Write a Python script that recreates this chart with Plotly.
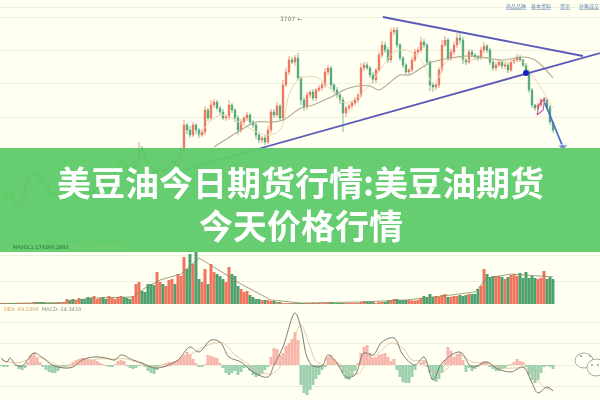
import plotly.graph_objects as go

# --- price candles (one per trading session) ---
closes = [
3499,3502,3506,3504,3498,3495,3497,3504,3516,3522,
3526,3528,3524,3519,3516,3512,3507,3504,3506,3502,
3508,3514,3518,3511,3506,3514,3519,3516,3510,3508,
3504,3509,3514,3522,3516,3511,3519,3524,3529,3536,
3539,3534,3529,3526,3532,3539,3552,3548,3540,3534,
3532,3528,3530,3532,3528,3532,3535,3540,3535,3542,
3550,3575,3570,3565,3575,3570,3565,3568,3590,3582,
3595,3598,3592,3588,3582,3583,3595,3590,3582,3570,
3578,3582,3585,3578,3575,3565,3560,3562,3558,3570,
3588,3585,3594,3582,3615,3628,3640,3638,3642,3622,
3600,3593,3605,3608,3602,3610,3612,3615,3628,3632,
3615,3610,3605,3600,3587,3592,3594,3597,3600,3605,
3632,3635,3632,3625,3620,3630,3645,3655,3650,3640,
3668,3670,3655,3642,3635,3628,3630,3640,3648,3650,
3658,3655,3638,3615,3613,3615,3630,3655,3660,3642,
3648,3655,3662,3660,3640,3638,3648,3645,3643,3642,
3650,3654,3650,3638,3632,3635,3638,3634,3635,3630,
3638,3640,3643,3640,3635,3628,3610,3595,3592,3595,
3600,3600,3593,3578,3570]
upper_wick = [
2,1,2,1,2,1,3,1,2,2,2,3,1,2,1,2,1,1,2,3,
2,2,3,1,2,2,3,2,1,2,2,1,3,2,1,2,3,2,2,3,
2,1,2,2,3,2,6,2,1,2,2,1,2,2,1,2,2,3,1,2,
3,5,2,4,3,2,2,3,4,2,5,3,2,2,3,2,5,2,2,3,
3,2,3,2,2,2,3,2,3,4,3,3,4,2,5,4,4,3,3,5,
2,3,3,2,3,2,3,3,4,3,2,2,3,2,3,2,2,2,3,2,
5,3,3,2,3,2,3,4,3,3,4,3,3,2,2,2,2,3,3,3,
5,3,2,2,2,2,3,5,4,2,3,3,5,5,3,2,3,3,2,2,
3,4,2,2,2,3,2,2,3,2,2,2,3,2,1,2,2,2,1,2,
2,3,2,2,1]
lower_wick = [
2,2,1,2,3,2,1,2,1,2,2,1,3,2,2,1,2,3,1,2,
2,1,2,3,1,2,1,2,3,2,2,3,1,2,2,1,2,2,1,2,
1,3,2,1,2,2,1,2,3,1,2,2,1,3,2,1,2,2,3,1,
2,3,4,3,2,4,3,2,3,3,3,3,2,3,2,3,3,3,4,5,
3,2,3,3,3,4,3,3,3,2,3,3,2,3,3,2,3,2,4,3,
5,4,3,3,3,3,2,3,3,3,4,3,3,4,19,4,3,3,3,3,
3,3,2,3,3,3,2,3,3,3,3,3,3,3,3,3,3,2,2,3,
3,3,3,6,5,3,3,3,2,3,3,3,3,4,4,3,2,2,3,3,
2,3,3,3,3,3,2,3,3,3,2,2,2,2,2,2,3,3,3,2,
2,3,3,3,3]

# --- moving averages on the price panel: session index, price ---
slow_idx = [71,80,85,90,94,100,104,110,116,123,126,133,136,143,150,155,160,167,174,178,184]
slow_val = [3553,3570,3578,3578,3580,3592,3595,3603,3612,3614,3610,3625,3625,3637,3642,3644,3643,3640,3643,3640,3622]
fast_idx = [66,73,81,88,93,96,99,105,111,115,122,127,131,135,140,144,146,148,152,155,162,168,174,177,180,184]
fast_val = [3565,3585,3575,3565,3570,3605,3620,3623,3607,3597,3612,3633,3648,3650,3640,3617,3623,3637,3643,3640,3642,3638,3638,3625,3612,3592]

# --- drawn trend lines and arrow on the price panel ---
upper_trend_idx = [127.3,194]
upper_trend_val = [3683,3644]
lower_trend_idx = [60.7,199.7]
lower_trend_val = [3530,3647]
arrow_idx = [181.3,187.3]
arrow_val = [3597,3553]
breakout_idx = [175]
breakout_val = [3627]
flag_idx = [178.7,179.3,181.3,180.7,178.7]
flag_val = [3585,3595,3602,3590,3585]

# --- volume bars ---
volume = [
.5,.5,.5,.5,.5,1,1,1,1,1,
1,1.5,1.5,1.5,1.5,1,1,1,1,1,
1,1.5,5,4,5,4,6,5,5,7,
6,8,5,6,7,5,8,6,5,7,
8,7,6,5,8,20,22,13,12,20,
20,19,32,22,20,18,24,25,20,30,
28,47,35,50,40,52,25,22,35,20,
40,32,30,28,25,22,37,30,28,18,
15,12,13,9,7,5,5,4,4,4,
3,3,2,2,1,1,1,.5,.5,1,
1,1,.5,.5,.5,.5,.5,1,1,1.5,
1.5,1,1,1,1,1,1,1,1,1,
2,3,2.5,2.5,2,1,1.5,2,2,3.5,
4,5,5,4,4,4,4,3.5,3.5,4,
6,8,7,10,7,8,7,9,10,7,
7,8,8,9,8,9,10,10,10,15,
18,35,30,27,28,28,28,27,25,27,
29,30,28,31,26,32,26,28,26,25,
26,33,25,27,25]
vol_ma_idx = [0,21,30,44,48,53,60,66,72,80,90,100,120,135,150,158,162,170,184]
vol_ma_val = [.5,1.5,6,7,16,24,30,46,35,20,4,1,2,4,9,12,26,30,27]

# --- MACD panel ---
macd_hist = [
-1,-2,-2,0,0,-1,-4,-5,-3,3,
10,12,7,3,-2,-5,-7,-8,-8,-6,
-3,-2,-1,1,3,5,6,7,7,6,
5,5,4,2,1,-1,-2,-2,1,4,
5,4,-1,-3,-4,-3,-1,1,-2,-6,
-8,-9,-5,-1,1,2,3,3,4,5,
8,10,13,11,6,2,-2,-2,1,10,
9,8,7,2,-3,-8,-10,-8,-6,-10,
-7,-3,-2,-6,-10,-12,-11,-9,-5,-2,
8,17,16,10,12,19,22,26,33,25,
-20,-28,-30,-25,-20,-14,-10,-5,-2,8,
10,6,2,-2,-8,-14,-15,-11,-6,2,
12,18,20,12,7,8,10,11,12,8,
4,6,-5,-12,-17,-18,-18,-12,-5,0,
3,5,-2,-8,-15,-17,-14,-8,5,18,
14,8,11,12,5,-7,-3,-6,-4,-2,
2,4,3,-2,-4,-6,-6,-4,-3,-1,
1,3,6,4,3,-2,-10,-15,-18,-15,
-8,-2,-1,-2,-4]
dif_idx = [0,2,3,5,7,11,14,17,21,24,27,31,35,38,40,44,47,51,54,59,63,66,70,73,76,80,84,89,91,94,98,100,102,104,107,109,112,115,118,121,124,127,131,134,138,141,144,147,153,157,162,165,170,174,177,179,182,184]
dif_val = [7,3,7,0,-1,12,7,0,-3,-2,5,8,7,5,10,5,2,-3,-2,5,18,13,25,23,8,3,-7,-12,0,18,52,37,8,-1,-1,10,2,-12,-10,12,10,23,27,10,0,8,-15,2,13,-2,3,-3,-7,-2,-18,-28,-22,-26]
dea_idx = [0,5,9,13,17,22,27,32,37,42,48,53,59,64,69,74,78,82,87,91,94,98,100,103,105,108,112,116,119,122,126,130,134,137,141,145,149,153,157,162,167,172,175,178,181,184]
dea_val = [5,2,5,8,2,-2,3,6,6,6,0,-2,2,12,20,22,10,2,-8,-8,3,30,40,18,4,0,3,-6,-9,3,12,22,17,5,4,-8,-3,10,3,2,-3,-3,-3,-12,-22,-25]

# --- text ---
title_line1 = "美豆油今日期货行情:美豆油期货"
title_line2 = "今天价格行情"
peak_label = "3707 ←"
vol_legend1 = "MAVOL1:174266.2893"
vol_legend2 = "MAVOL2:122668.7382"
dea_legend = "DEA:-69.2308"
macd_legend = "MACD:-14.3433"
nav_links = ["商品品种", "基本资料", "资讯", "分笔成交"]
nav_link_x = [516, 541, 565, 589]

UP, DOWN = "#ea6a52", "#45a06c"
idx = list(range(len(closes)))
opens = [closes[0]] + closes[:-1]
highs = [max(o, c) + w for o, c, w in zip(opens, closes, upper_wick)]
lows = [min(o, c) - w for o, c, w in zip(opens, closes, lower_wick)]

fig = go.Figure()
fig.add_trace(go.Bar(x=idx, y=volume, yaxis="y2", width=1.0,
                     marker_color=[("#ef6a52" if c >= o else "#3d9a62") for o, c in zip(opens, closes)],
                     marker_line_width=0, opacity=0.92))
fig.add_trace(go.Scatter(x=vol_ma_idx, y=vol_ma_val, yaxis="y2", mode="lines",
                         line=dict(color="#8a8a60", width=0.8)))
fig.add_trace(go.Bar(x=idx, y=macd_hist, yaxis="y3", width=1.0,
                     marker_color=[("#f8b5ab" if v >= 0 else "#9ccfac") for v in macd_hist],
                     marker_line_width=0))
fig.add_trace(go.Scatter(x=dea_idx, y=dea_val, yaxis="y3", mode="lines", line_shape="spline",
                         line=dict(color="#e6c4a0", width=0.9)))
fig.add_trace(go.Scatter(x=dif_idx, y=dif_val, yaxis="y3", mode="lines", line_shape="spline",
                         line=dict(color="#7c7c70", width=1)))
fig.add_trace(go.Candlestick(x=idx, open=opens, high=highs, low=lows, close=closes, whiskerwidth=0,
                             increasing=dict(line=dict(color=UP, width=0.7), fillcolor=UP),
                             decreasing=dict(line=dict(color=DOWN, width=0.7), fillcolor=DOWN)))
fig.add_trace(go.Scatter(x=fast_idx, y=fast_val, mode="lines", line_shape="spline",
                         line=dict(color="#e9d6b0", width=1)))
fig.add_trace(go.Scatter(x=slow_idx, y=slow_val, mode="lines", line_shape="spline",
                         line=dict(color="#aeab92", width=1.1)))
for xs, ys in ((upper_trend_idx, upper_trend_val), (lower_trend_idx, lower_trend_val)):
    fig.add_trace(go.Scatter(x=xs, y=ys, mode="lines", line=dict(color="#5a5ab8", width=1.8)))
fig.add_trace(go.Scatter(x=flag_idx, y=flag_val, mode="lines", line=dict(color="#c060a8", width=1.2)))
fig.add_trace(go.Scatter(x=arrow_idx, y=arrow_val, mode="lines+markers",
                         line=dict(color="#4a6cc8", width=1.8),
                         marker=dict(symbol=["circle", "triangle-down"], size=[0, 9], color="#4a6cc8")))
fig.add_trace(go.Scatter(x=breakout_idx, y=breakout_val, mode="markers",
                         marker=dict(color="#1f1fc0", size=6)))

def small(text, x, y, color, size=5, xanchor="left", **kw):
    return dict(text=text, x=x, y=y, xref="paper", yref="paper", xanchor=xanchor, yanchor="middle",
                showarrow=False, font=dict(size=size, color=color, family="DejaVu Sans"), **kw)

ann = [
    dict(text="<b>" + title_line1 + "</b>", x=0.501, y=1 - 181 / 400, xref="paper", yref="paper", showarrow=False,
         font=dict(size=34, color="white", family="Noto Sans CJK SC"), xanchor="center", yanchor="middle"),
    dict(text="<b>" + title_line2 + "</b>", x=0.501, y=1 - 224 / 400, xref="paper", yref="paper", showarrow=False,
         font=dict(size=34, color="white", family="Noto Sans CJK SC"), xanchor="center", yanchor="middle"),
    small(peak_label, 278 / 600, 1 - 18 / 400, "#777770", size=6),
    small(vol_legend1, 11 / 600, 1 - 247 / 400, "#2f6b3a"),
    small(vol_legend2, 67 / 600, 1 - 247 / 400, "#7fd06a"),
    small(dea_legend, 2 / 600, 1 - 309 / 400, "#d8a060"),
    small(macd_legend, 40 / 600, 1 - 309 / 400, "#8a8a80"),
]
for t, x in zip(nav_links, nav_link_x):
    a = small("<u>" + t + "</u>", x / 600, 1 - 6 / 400, "#5f88b0", size=5, xanchor="center")
    a["font"]["family"] = "Noto Sans CJK SC"
    ann.append(a)

def px_x(v): return v / 600
def px_y(v): return 1 - v / 400

def dot(cx, cy, r=1):
    return dict(type="circle", xref="paper", yref="paper", x0=px_x(cx - r), x1=px_x(cx + r),
                y0=px_y(cy + r), y1=px_y(cy - r), fillcolor="#9a9a95", line_width=0, layer="above")

shapes = [
    # green title band
    dict(type="rect", xref="paper", yref="paper", x0=0, x1=1, y0=px_y(252), y1=px_y(148),
         fillcolor="#5ecb68", opacity=0.95, line_width=0, layer="above"),
    # chat-logo watermark
    dict(type="circle", xref="paper", yref="paper", x0=px_x(575), x1=px_x(593), y0=px_y(368), y1=px_y(353),
         fillcolor="#fffff8", line=dict(color="#a8a8a2", width=1), layer="above"),
    dict(type="circle", xref="paper", yref="paper", x0=px_x(587), x1=px_x(606), y0=px_y(376), y1=px_y(359),
         fillcolor="#fffff8", line=dict(color="#a8a8a2", width=1), layer="above"),
    dot(581, 356), dot(590, 356), dot(592, 365), dot(598, 365),
]

grid = "#f0eede"
fig.update_layout(
    width=600, height=400, margin=dict(l=0, r=0, t=0, b=0), showlegend=False, barmode="overlay",
    paper_bgcolor="#fffff2", plot_bgcolor="#fffff2", annotations=ann, shapes=shapes,
    xaxis=dict(range=[-0.33, 199.67], visible=False, rangeslider=dict(visible=False), fixedrange=True),
    yaxis=dict(domain=[0, 1], range=[3300, 3700], tickvals=[3693, 3683, 3650, 3617, 3583],
               showticklabels=False, ticks="", gridcolor=grid, gridwidth=1, zeroline=False),
    yaxis2=dict(domain=[96 / 400, 148 / 400], range=[0, 52], tickvals=[0, 23, 49],
                showticklabels=False, ticks="", gridcolor=grid, gridwidth=1, zeroline=False),
    yaxis3=dict(domain=[0, 91 / 400], range=[-35, 56], tickvals=[-34, -21, 0, 22, 43],
                showticklabels=False, ticks="", gridcolor=grid, gridwidth=1, zeroline=False),
)
fig.write_html("out.html", config=dict(displayModeBar=False),
               post_script="document.body.style.margin='0';"
                           "document.querySelectorAll('.cartesianlayer').forEach(function(g){g.style.filter='blur(0.55px)';});")
